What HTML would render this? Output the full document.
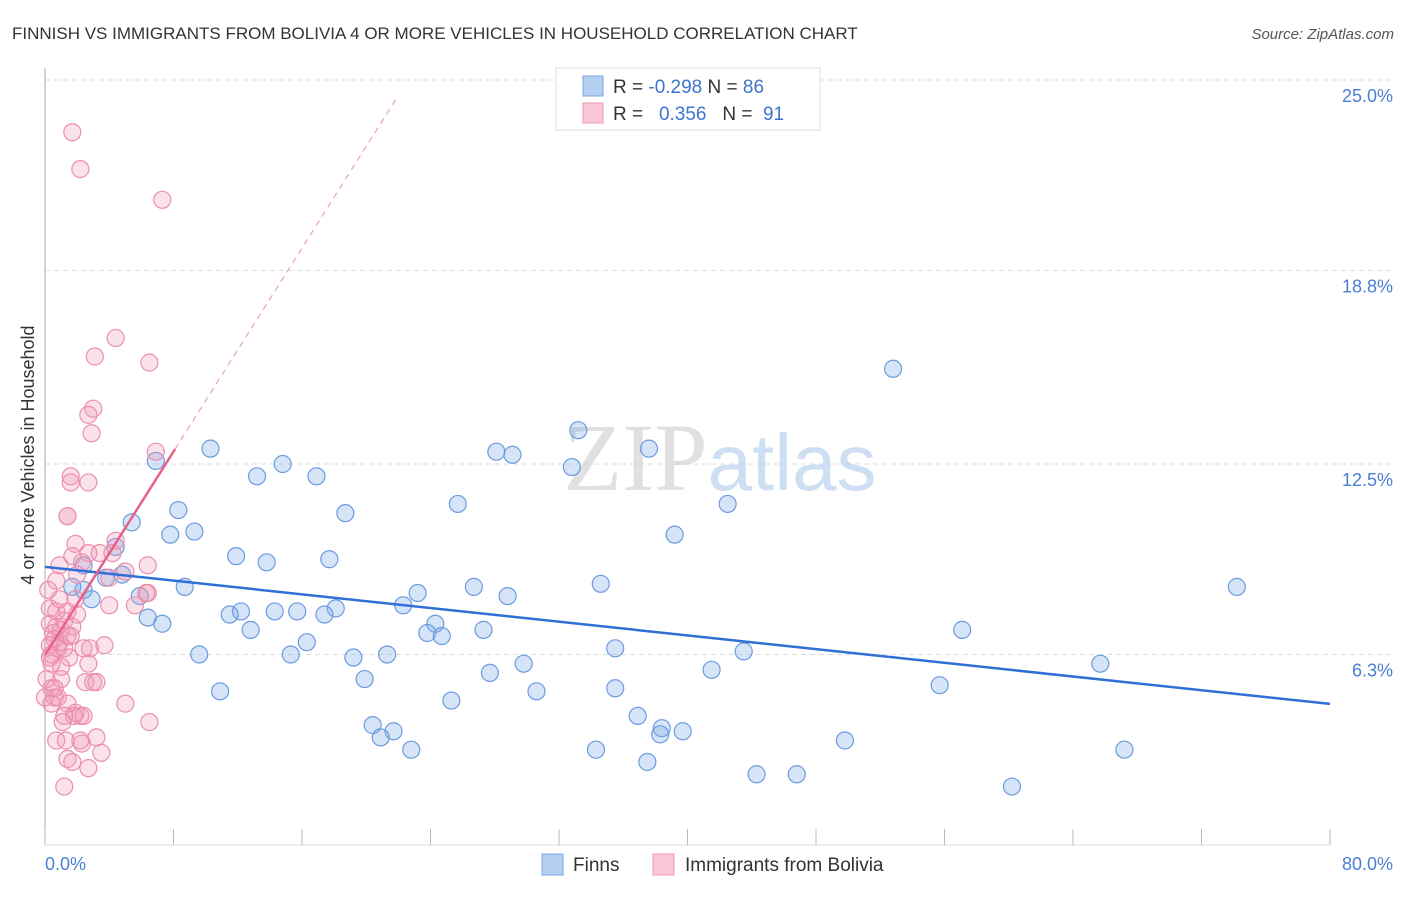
<!DOCTYPE html>
<html><head><meta charset="utf-8"><style>
body{margin:0;background:#fff;font-family:"Liberation Sans",sans-serif}
svg text{font-family:"Liberation Sans",sans-serif}
</style></head><body>
<svg id="chart" width="1406" height="892" viewBox="0 0 1406 892" xmlns="http://www.w3.org/2000/svg">
<text x="12" y="39" font-size="17" fill="#333">FINNISH VS IMMIGRANTS FROM BOLIVIA 4 OR MORE VEHICLES IN HOUSEHOLD CORRELATION CHART</text>
<text x="1394" y="39" font-size="15" fill="#555" text-anchor="end" font-style="italic">Source: ZipAtlas.com</text>
<g id="grid"></g>
<text x="720" y="490" font-size="96" text-anchor="middle" fill="#ccc" opacity="0.55"><tspan font-family="Liberation Serif" fill="#c8c8c8">ZIP</tspan><tspan fill="#a9c6ea" font-size="80">atlas</tspan></text>
<line x1="45" y1="68" x2="45" y2="845" stroke="#aaa"/>
<line x1="45" y1="845" x2="1330" y2="845" stroke="#ddd"/>
<g id="ticks"></g>
<text transform="translate(34,455) rotate(-90)" font-size="18" fill="#333" text-anchor="middle">4 or more Vehicles in Household</text>
<text x="45" y="870" font-size="18" fill="#4a7fd4">0.0%</text>
<text x="1393" y="870" font-size="18" fill="#4a7fd4" text-anchor="end">80.0%</text>
<g id="points"></g>
<g id="trends"></g>
<g>
<rect x="556" y="68" width="264" height="62" fill="#fff" stroke="#ddd"/>
<rect x="583" y="76" width="20" height="20" fill="#b5cff3" stroke="#7aa6e3"/>
<rect x="583" y="103" width="20" height="20" fill="#f9c6d5" stroke="#ee9ab3"/>
<text x="613" y="93" font-size="19" fill="#333">R = <tspan fill="#3d74d0">-0.298</tspan>   N = <tspan fill="#3d74d0">86</tspan></text>
<text x="613" y="120" font-size="19" fill="#333" xml:space="preserve">R =   <tspan fill="#3d74d0">0.356</tspan>   N =  <tspan fill="#3d74d0">91</tspan></text>
</g>
<g>
<rect x="542" y="854" width="21" height="21" fill="#b5cff3" stroke="#7aa6e3"/>
<text x="573" y="871" font-size="19" fill="#333">Finns</text>
<rect x="653" y="854" width="21" height="21" fill="#f9c6d5" stroke="#ee9ab3"/>
<text x="685" y="871" font-size="19" fill="#333">Immigrants from Bolivia</text>
</g>
</svg>
<script>
const yTicks=[25.0,18.8,12.5,6.3];
const yTickLabels=["25.0%","18.8%","12.5%","6.3%"];
const xTicks=[0,8,16,24,32,40,48,56,64,72,80];
const finnsX=[52.8,33.2,10.3,6.9,28.1,29.1,37.6,14.8,13.2,16.9,32.8,25.7,8.3,18.7,42.5,5.4,4.4,7.8,9.3,39.2,11.9,13.8,17.7,3.8,2.4,1.7,4.8,8.7,5.9,26.7,34.6,23.2,28.8,74.2,12.2,6.4,7.3,11.5,14.3,15.7,18.1,17.4,22.3,24.3,23.8,24.7,27.3,12.8,57.1,16.3,35.5,9.6,15.3,19.2,21.3,43.5,29.8,65.7,27.7,41.5,19.9,10.9,30.6,35.5,55.7,25.3,36.9,20.4,21.7,20.9,38.4,38.3,39.7,49.8,22.8,34.3,67.2,37.5,44.3,46.8,60.2,2.9,2.4];
const finnsY=[15.6,13.6,13.0,12.6,12.9,12.8,13.0,12.5,12.1,12.1,12.4,11.2,11.0,10.9,11.2,10.6,9.8,10.2,10.3,10.2,9.5,9.3,9.4,8.8,8.4,8.5,8.9,8.5,8.2,8.5,8.6,8.3,8.2,8.5,7.7,7.5,7.3,7.6,7.7,7.7,7.8,7.6,7.9,7.3,7.0,6.9,7.1,7.1,7.1,6.7,6.5,6.3,6.3,6.2,6.3,6.4,6.0,6.0,5.7,5.8,5.5,5.1,5.1,5.2,5.3,4.8,4.3,4.0,3.8,3.6,3.9,3.7,3.8,3.5,3.2,3.2,3.2,2.8,2.4,2.4,2.0,8.1,9.2];
const boliviaX=[1.7,2.2,7.3,4.4,3.1,6.5,3.0,2.7,2.9,6.9,1.6,1.6,2.7,1.4,1.4,1.9,4.4,2.7,3.4,4.2,1.7,0.9,2.3,2.0,5.0,6.4,4.0,6.3,0.3,0.7,1.4,2.0,1.2,0.3,1.7,0.7,1.0,0.5,1.4,1.6,0.6,0.9,0.3,1.2,0.8,0.4,1.5,0.4,2.8,3.7,2.4,1.0,2.7,0.1,1.0,2.5,3.0,3.2,0.4,0.8,1.4,0.4,5.0,1.9,2.2,1.2,2.4,1.8,6.5,0.7,1.3,2.3,2.2,3.2,1.4,2.7,3.5,1.7,1.2,0.6,0.9,1.9,0.2,0.6,0.3,1.1,0,4.0,5.6,6.4,0.7];
const boliviaY=[23.3,22.1,21.1,16.6,16.0,15.8,14.3,14.1,13.5,12.9,12.1,11.9,11.9,10.8,10.8,9.9,10.0,9.6,9.6,9.6,9.5,9.2,9.3,8.9,9.0,9.2,8.8,8.3,7.8,7.7,7.7,7.6,7.4,7.3,7.2,7.2,7.1,7.0,6.9,6.9,6.8,6.7,6.6,6.5,6.5,6.3,6.2,6.0,6.5,6.6,6.5,5.9,6.0,5.5,5.5,5.4,5.4,5.4,5.2,4.9,4.7,4.7,4.7,4.4,4.3,4.3,4.3,4.3,4.1,3.5,3.5,3.4,3.5,3.6,2.9,2.6,3.1,2.8,2.0,4.9,8.1,8.1,8.4,5.2,6.2,4.1,4.9,7.9,7.9,8.3,8.7];
const finnsTrend=[9.15,4.69];
const boliviaIntercept=6.28, boliviaSlope=0.828, boliviaSolidEnd=8.1, boliviaDashEnd=21.9;
const NS="http://www.w3.org/2000/svg";
const X0=45,X1=1330,Y0=848,PXPER=30.72;
function xs(v){return X0+v/80*(X1-X0);}
function ys(v){return Y0-v*PXPER;}
function mk(tag,attrs,parent){const e=document.createElementNS(NS,tag);for(const k in attrs)e.setAttribute(k,attrs[k]);document.getElementById(parent).appendChild(e);return e;}
yTicks.forEach((t,i)=>{
  const l=mk('line',{x1:45,x2:1395,y1:ys(t),y2:ys(t),stroke:'#ddd','stroke-dasharray':'5,4'},'grid');
  
  
  const tx=mk('text',{x:1393,y:ys(t)+22,'font-size':18,fill:'#4a7fd4','text-anchor':'end'},'grid');
  tx.textContent=yTickLabels[i];
  
  
});
xTicks.forEach(t=>{
  const l=mk('line',{x1:xs(t),x2:xs(t),y1:829,y2:845,stroke:'#bbb'},'ticks');
  
  
});
finnsX.forEach((x,i)=>{
  const c=mk('circle',{cx:xs(x),cy:ys(finnsY[i]),r:8.5,fill:'rgba(120,165,232,0.3)',stroke:'#6c9be0','stroke-width':1.2},'points');
  
  
});
boliviaX.forEach((x,i)=>{
  const c=mk('circle',{cx:xs(x),cy:ys(boliviaY[i]),r:8.5,fill:'rgba(242,150,178,0.28)',stroke:'#eb8fab','stroke-width':1.2},'points');
  
  
});
const ft=mk('line',{x1:xs(0),y1:ys(finnsTrend[0]),x2:xs(80),y2:ys(finnsTrend[1]),stroke:'#2f6fd6','stroke-width':2.5},'trends');


const bs=mk('line',{x1:xs(0),y1:ys(boliviaIntercept),x2:xs(boliviaSolidEnd),y2:ys(boliviaIntercept+boliviaSlope*boliviaSolidEnd),stroke:'#e8628c','stroke-width':2.5},'trends');


const bd=mk('line',{x1:xs(boliviaSolidEnd),y1:ys(boliviaIntercept+boliviaSlope*boliviaSolidEnd),x2:xs(boliviaDashEnd),y2:ys(boliviaIntercept+boliviaSlope*boliviaDashEnd),stroke:'#eaa0b8','stroke-width':1.2,'stroke-dasharray':'6,5'},'trends');


</script>
</body></html>
